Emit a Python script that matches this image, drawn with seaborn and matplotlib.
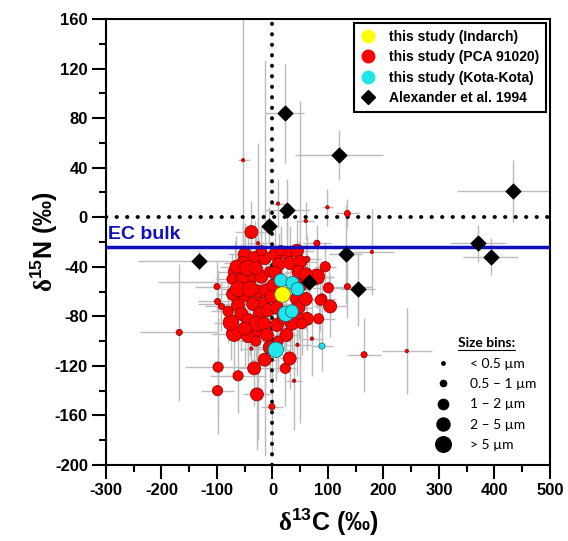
import matplotlib
matplotlib.use('Agg')
import matplotlib.pyplot as plt
import seaborn as sns
import pandas as pd
import numpy as np
from matplotlib.lines import Line2D
from matplotlib.ticker import MultipleLocator

# this study (PCA 91020): d13C, d15N, size bin index, 1-sigma errors
pca_c13 = [-53, 10, 99, 135, 60, -38, -26, 80, -100, -99,
           -92, -168, 101, 135, 89, 104, 83, 71, 45, 39,
           23, 31, -14, -33, -98, -62, -99, -28, -1, 242,
           165, 179, -69, -44, -26, -40, -30, -38, -50, -32,
           -53, -14, -68, -40, -56, -20, -5, -71, -50, -26,
           -11, -17, -35, -62, -56, -44, -23, -8, -73, -65,
           5, 26, 44, 11, 32, 50, 62, 47, 5, 2,
           -2, 50, 44, 47, 8, 80, 86, 95, 62, 44,
           35, 8, 25, 53, -45, -30, -62, -40, -28, -50,
           -15, -10, 20, 15, -20, 60, 60, -75, -80, -5,
           10]
pca_n15 = [46, 11, 8, 3, -3, -12, -21, -21, -56, -68,
           -72, -93, -57, -56, -66, -72, -82, -98, -103, -132,
           -122, -114, -115, -122, -121, -128, -140, -143, -153, -108,
           -111, -28, -94, -96, -91, -86, -100, -106, -30, -33,
           -37, -33, -44, -49, -52, -48, -44, -62, -63, -60,
           -59, -70, -70, -71, -78, -83, -78, -75, -50, -40,
           -30, -29, -27, -38, -37, -36, -34, -44, -45, -55,
           -64, -55, -66, -73, -73, -48, -67, -40, -82, -82,
           -86, -87, -95, -86, -41, -41, -58, -58, -86, -90,
           -86, -95, -81, -27, -27, -46, -66, -85, -76, -105,
           -100]
pca_bin = [0, 0, 0, 1, 0, 3, 0, 1, 1, 1,
           1, 1, 2, 1, 2, 3, 2, 0, 0, 0,
           2, 3, 3, 3, 2, 2, 2, 3, 1, 0,
           1, 0, 4, 3, 3, 3, 2, 0, 3, 3,
           3, 3, 3, 3, 4, 3, 2, 3, 3, 3,
           3, 3, 3, 3, 3, 3, 3, 3, 2, 3,
           3, 3, 3, 3, 3, 3, 1, 3, 3, 3,
           3, 3, 3, 3, 3, 4, 2, 2, 3, 3,
           3, 3, 3, 2, 4, 3, 4, 4, 4, 3,
           3, 3, 3, 2, 2, 3, 3, 4, 2, 3,
           2]
pca_c13_err = [10, 15, 10, 20, 15, 30, 20, 25, 40, 35,
               30, 70, 30, 45, 25, 30, 30, 20, 25, 15,
               20, 20, 25, 30, 60, 50, 30, 25, 20, 45,
               30, 40, 40, 35, 30, 25, 30, 20, 30, 25,
               35, 25, 30, 25, 150, 30, 20, 30, 30, 25,
               25, 30, 100, 35, 30, 30, 25, 25, 30, 30,
               25, 30, 30, 25, 25, 30, 25, 25, 25, 25,
               25, 30, 25, 25, 25, 30, 25, 20, 25, 25,
               25, 25, 25, 20, 30, 25, 30, 30, 30, 30,
               25, 25, 25, 20, 20, 25, 25, 30, 30, 25,
               25]
pca_n15_err = [115, 20, 15, 12, 15, 25, 20, 15, 20, 25,
               20, 55, 20, 25, 20, 25, 20, 30, 25, 40,
               30, 25, 30, 30, 40, 30, 35, 45, 40, 35,
               30, 35, 30, 25, 25, 25, 25, 20, 25, 30,
               30, 160, 25, 25, 30, 25, 20, 25, 30, 120,
               25, 30, 30, 30, 30, 30, 25, 25, 20, 25,
               25, 25, 25, 25, 30, 130, 20, 25, 25, 25,
               25, 25, 25, 25, 25, 25, 25, 20, 25, 25,
               25, 25, 25, 25, 30, 25, 30, 30, 30, 30,
               25, 25, 25, 20, 20, 25, 25, 30, 25, 25,
               25]

# this study (Kota-Kota)
kota_c13 = [15, 36, 45, 24, 35, 6, 89]
kota_n15 = [-51, -53, -58, -78, -76, -107, -104]
kota_bin = [3, 3, 3, 4, 3, 4, 1]
kota_c13_err = [20, 20, 25, 25, 20, 25, 20]
kota_n15_err = [20, 20, 20, 25, 20, 25, 20]

# this study (Indarch)
ind_c13 = [18]
ind_n15 = [-62]
ind_bin = [4]
ind_c13_err = [20]
ind_n15_err = [20]

# Alexander et al. 1994
alex_c13 = [22, 120, 27, -6, -132, 132, 65, 154, 370, 393, 433]
alex_n15 = [84, 50, 6, -7, -35, -30, -52, -58, -21, -32, 21]
alex_c13_err = [35, 80, 40, 15, 110, 30, 25, 30, 50, 50, 100]
alex_n15_err = [40, 20, 25, 15, 8, 40, 15, 30, 15, 15, 25]

ec_bulk_n15 = -24
size_labels = ['< 0.5 µm', '0.5 – 1 µm', '1 – 2 µm', '2 – 5 µm', '> 5 µm']

sns.set_style('ticks')
plt.rcParams['font.family'] = ['Liberation Sans', 'DejaVu Sans']
plt.rcParams['font.weight'] = 'bold'
plt.rcParams['axes.unicode_minus'] = False
plt.rcParams['text.color'] = 'black'
plt.rcParams['axes.labelcolor'] = 'black'
plt.rcParams['xtick.color'] = 'black'
plt.rcParams['ytick.color'] = 'black'
plt.rcParams['mathtext.fontset'] = 'custom'
plt.rcParams['mathtext.rm'] = 'Liberation Serif'
plt.rcParams['mathtext.bf'] = 'Liberation Sans:bold'

bin_area = {0: 6, 1: 20, 2: 55, 3: 88, 4: 125}

df_pca = pd.DataFrame({'c13': pca_c13, 'n15': pca_n15, 'bin': pca_bin})
df_kota = pd.DataFrame({'c13': kota_c13, 'n15': kota_n15, 'bin': kota_bin})
df_ind = pd.DataFrame({'c13': ind_c13, 'n15': ind_n15, 'bin': ind_bin})
df_alex = pd.DataFrame({'c13': alex_c13, 'n15': alex_n15})

fig = plt.figure(figsize=(5.68, 5.41), dpi=100)
ax = fig.add_axes([0.1866, 0.1405, 0.7817, 0.8244])

# error bars (grey, behind everything)
err_kw = dict(fmt='none', ecolor='#bcbcbc', elinewidth=1, capsize=0, zorder=1)
ax.errorbar(pca_c13, pca_n15, xerr=pca_c13_err, yerr=pca_n15_err, **err_kw)
ax.errorbar(kota_c13, kota_n15, xerr=kota_c13_err, yerr=kota_n15_err, **err_kw)
ax.errorbar(ind_c13, ind_n15, xerr=ind_c13_err, yerr=ind_n15_err, **err_kw)
ax.errorbar(alex_c13, alex_n15, xerr=alex_c13_err, yerr=alex_n15_err, **err_kw)

# reference lines
dot = (0, (0.1, 2.6))
ax.axvline(0, color='black', ls=dot, lw=2.8, dash_capstyle='round', zorder=2)
ax.axhline(0, color='black', ls=dot, lw=2.8, dash_capstyle='round', zorder=2)

sns.scatterplot(data=df_pca, x='c13', y='n15', size='bin', sizes=bin_area,
                color='#ff0000', edgecolor='#800000', linewidth=0.5,
                legend=False, ax=ax, zorder=3)
ax.axhline(ec_bulk_n15, color='#1010c0', lw=2.5, zorder=3.5)
ax.text(-297, ec_bulk_n15 + 3, 'EC bulk', color='#1010c0', fontsize=14,
        fontweight='bold', va='bottom', ha='left', zorder=3.5)
sns.scatterplot(data=df_kota, x='c13', y='n15', size='bin', sizes=bin_area,
                color='#22e5ec', edgecolor='#006070', linewidth=0.5,
                legend=False, ax=ax, zorder=4)
sns.scatterplot(data=df_ind, x='c13', y='n15', size='bin', sizes=bin_area,
                color='#ffff00', edgecolor='#707000', linewidth=0.5,
                legend=False, ax=ax, zorder=4)
sns.scatterplot(data=df_alex, x='c13', y='n15', marker='D', s=60,
                color='black', edgecolor='black', legend=False, ax=ax, zorder=5)

ax.set_xlim(-300, 500)
ax.set_ylim(-200, 160)
ax.xaxis.set_major_locator(MultipleLocator(100))
ax.xaxis.set_minor_locator(MultipleLocator(50))
ax.yaxis.set_major_locator(MultipleLocator(40))
ax.yaxis.set_minor_locator(MultipleLocator(20))
ax.tick_params(which='major', direction='out', length=10, width=1.5,
               labelsize=12, pad=3, color='black', labelcolor='black', left=True, bottom=True)
ax.tick_params(which='minor', direction='out', length=5, width=1.5,
               color='black', left=True, bottom=True)
for sp in ax.spines.values():
    sp.set_linewidth(1.5)
    sp.set_color('black')

ax.set_xlabel(r'$\mathrm{\delta}^{\mathbf{13}}$C (‰)', fontsize=18, fontweight='bold', labelpad=6)
ax.set_ylabel(r'$\mathrm{\delta}^{\mathbf{15}}$N (‰)', fontsize=18, fontweight='bold', labelpad=-4)

handles = [
    Line2D([], [], ls='', marker='o', markersize=9, markerfacecolor='#ffff00', markeredgecolor='#ffff00'),
    Line2D([], [], ls='', marker='o', markersize=9, markerfacecolor='#ff0000', markeredgecolor='#ff0000'),
    Line2D([], [], ls='', marker='o', markersize=9, markerfacecolor='#22e5ec', markeredgecolor='#22e5ec'),
    Line2D([], [], ls='', marker='D', markersize=7, markerfacecolor='black', markeredgecolor='black'),
]
labels = ['this study (Indarch)', 'this study (PCA 91020)',
          'this study (Kota-Kota)', 'Alexander et al. 1994']
leg = ax.legend(handles, labels, loc='upper right', bbox_to_anchor=(1.0, 1.0),
                borderaxespad=0.3, fancybox=False, frameon=True, edgecolor='black',
                framealpha=1, prop={'weight': 'bold', 'size': 10},
                handlelength=1.0, handletextpad=1.0, labelspacing=0.45, borderpad=0.5)
leg.get_frame().set_linewidth(1.5)
ax.add_artist(leg)

size_handles = [Line2D([], [], ls='', marker='o', color='black',
                       markersize=np.sqrt(bin_area[i])) for i in range(5)]
leg2 = ax.legend(size_handles, size_labels, loc='lower right', bbox_to_anchor=(1.0, 0.0),
                 frameon=False, title='Size bins:',
                 prop={'family': 'Lato', 'weight': 'normal', 'size': 10},
                 title_fontproperties={'family': 'Lato', 'weight': 'bold', 'size': 10},
                 handlelength=1.0, handletextpad=1.4, labelspacing=0.6, borderpad=0.5)

fig.canvas.draw()
bb = leg2.get_title().get_window_extent()
p0 = fig.transFigure.inverted().transform((bb.x0, bb.y0 - 1))
p1 = fig.transFigure.inverted().transform((bb.x1, bb.y0 - 1))
fig.add_artist(Line2D([p0[0], p1[0]], [p0[1], p1[1]], color='black', lw=0.8,
                      transform=fig.transFigure))

fig.savefig('out.png', dpi=100)
